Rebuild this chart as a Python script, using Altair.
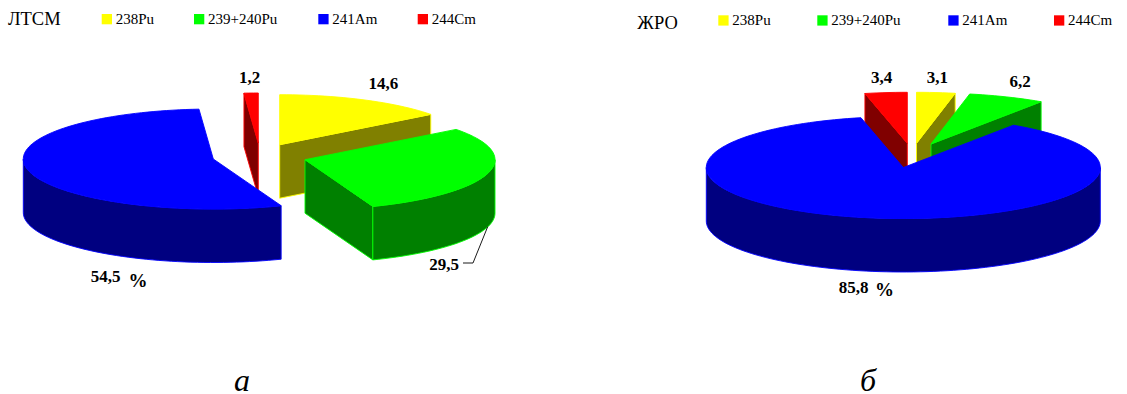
import math
import altair as alt
import pandas as pd

# Nuclide shares, per cent
NUCLIDES = ["238Pu", "239+240Pu", "241Am", "244Cm"]
LTSM_VALUES = [14.6, 29.5, 54.5, 1.2]
ZHRO_VALUES = [3.1, 6.2, 85.8, 3.4]

# Bright top colour and shaded side colour of each nuclide
TOP_COLORS = ["#ffff00", "#00ff00", "#0000ff", "#ff0000"]
SIDE_COLORS = ["#808000", "#008000", "#000080", "#800000"]

WIDTH, HEIGHT = 1127, 394
THICKNESS = 53.5
DRAW_ORDER = [0, 3, 1, 2]  # the large blue slice sits in front


def arc(cx, cy, rx, ry, t1, t2, drop=0.0):
    """Points along a tilted circle between two clockwise angles, degrees from 12 o'clock."""
    n = max(2, int(abs(t2 - t1) / 2) + 1)
    pts = []
    for i in range(n + 1):
        t = math.radians(t1 + (t2 - t1) * i / n)
        pts.append((cx + rx * math.sin(t), cy - ry * math.cos(t) + drop))
    return pts


def slice_faces(prefix, values, centers, rx, ry):
    """Faces of a raised pie as closed outlines, back to front, from the shares."""
    total = sum(values)
    bounds = [0.0]
    for v in values:
        bounds.append(bounds[-1] + v / total * 360)
    faces = []
    for idx in DRAW_ORDER:
        t1, t2 = bounds[idx], bounds[idx + 1]
        cx, cy = centers[idx]
        top, side = TOP_COLORS[idx], SIDE_COLORS[idx]

        def radial(t):
            a = math.radians(t)
            p = (cx + rx * math.sin(a), cy - ry * math.cos(a))
            return [(cx, cy), p, (p[0], p[1] + THICKNESS), (cx, cy + THICKNESS)]

        if math.sin(math.radians(t1)) < -1e-6:
            faces.append((f"{prefix}{idx}s", radial(t1), side, top))
        if math.sin(math.radians(t2)) > 1e-6:
            faces.append((f"{prefix}{idx}e", radial(t2), side, top))
        w1, w2 = max(t1, 90), min(t2, 270)
        if w2 > w1:
            upper = arc(cx, cy, rx, ry, w1, w2)
            lower = arc(cx, cy, rx, ry, w2, w1, THICKNESS)
            faces.append((f"{prefix}{idx}w", upper + lower, side, top))
        faces.append((f"{prefix}{idx}t", [(cx, cy)] + arc(cx, cy, rx, ry, t1, t2), top, top))
    return faces


# Exploded slice apexes on the page, in nuclide order
LTSM_CENTERS = [(279.7, 144.7), (305.0, 159.7), (213.3, 159.0), (258.3, 143.0)]
ZHRO_CENTERS = [(916.5, 143.3), (931.0, 144.0), (903.3, 167.5), (907.3, 143.3)]

faces = slice_faces("a", LTSM_VALUES, LTSM_CENTERS, 190, 50) + slice_faces(
    "b", ZHRO_VALUES, ZHRO_CENTERS, 197, 51
)
rows = []
for order, (name, pts, fill, stroke) in enumerate(faces):
    for i, (x, y) in enumerate(pts + pts[:1]):
        rows.append(
            {"face": f"{order:03d}{name}", "i": i, "x": x, "y": y, "fill": fill, "stroke": stroke}
        )
face_df = pd.DataFrame(rows)

X = alt.X("x:Q", scale=alt.Scale(domain=[0, WIDTH], range=[0, WIDTH], nice=False, zero=False), axis=None)
Y = alt.Y("y:Q", scale=alt.Scale(domain=[0, HEIGHT], range=[0, HEIGHT], nice=False, zero=False), axis=None)

pie = (
    alt.Chart(face_df)
    .mark_line(strokeWidth=0.9, interpolate="linear")
    .encode(
        x=X,
        y=Y,
        order=alt.Order("i:Q"),
        detail="face:N",
        fill=alt.Fill("fill:N", scale=None),
        stroke=alt.Stroke("stroke:N", scale=None),
    )
)

# Legends
swatch_rows, legend_rows = [], []
for left_edges, top in (([101.7, 194.0, 318.3, 417.7], 14.0), ([718.3, 817.3, 948.3, 1054.0], 15.3)):
    for name, color, x in zip(NUCLIDES, TOP_COLORS, left_edges):
        swatch_rows.append({"x": x, "x2": x + 10.3, "y": top, "y2": top + 10.3, "c": color})
        legend_rows.append({"x": x + 14, "y": top + 10, "t": name})

swatches = (
    alt.Chart(pd.DataFrame(swatch_rows))
    .mark_rect()
    .encode(x=X, x2="x2:Q", y=Y, y2="y2:Q", fill=alt.Fill("c:N", scale=None))
)
legend_text = (
    alt.Chart(pd.DataFrame(legend_rows))
    .mark_text(font="Liberation Serif", fontSize=15, align="left", baseline="alphabetic", color="black")
    .encode(x=X, y=Y, text="t:N")
)

titles = (
    alt.Chart(pd.DataFrame([{"x": 8, "y": 25, "t": "ЛТСМ"}, {"x": 637.3, "y": 29, "t": "ЖРО"}]))
    .mark_text(font="Liberation Serif", fontSize=18.5, align="left", baseline="alphabetic", color="black")
    .encode(x=X, y=Y, text="t:N")
)


def fmt(v):
    return str(v).replace(".", ",")


value_rows = [
    {"x": 383.3, "y": 89, "t": fmt(LTSM_VALUES[0])},
    {"x": 444.0, "y": 270, "t": fmt(LTSM_VALUES[1])},
    {"x": 105.5, "y": 282, "t": fmt(LTSM_VALUES[2])},
    {"x": 249.7, "y": 83, "t": fmt(LTSM_VALUES[3])},
    {"x": 937.3, "y": 83, "t": fmt(ZHRO_VALUES[0])},
    {"x": 1020.0, "y": 87, "t": fmt(ZHRO_VALUES[1])},
    {"x": 853.5, "y": 293, "t": fmt(ZHRO_VALUES[2])},
    {"x": 881.7, "y": 83, "t": fmt(ZHRO_VALUES[3])},
]
value_text = (
    alt.Chart(pd.DataFrame(value_rows))
    .mark_text(font="Liberation Serif", fontSize=17, fontWeight="bold", align="center", baseline="alphabetic", color="black")
    .encode(x=X, y=Y, text="t:N")
)

percent_text = (
    alt.Chart(pd.DataFrame([{"x": 138.0, "y": 287, "t": "%"}, {"x": 884.5, "y": 296, "t": "%"}]))
    .mark_text(font="Liberation Serif", fontSize=19, fontWeight="bold", align="center", baseline="alphabetic", color="black")
    .encode(x=X, y=Y, text="t:N")
)

panel_text = (
    alt.Chart(pd.DataFrame([{"x": 242, "y": 391, "t": "а"}, {"x": 868, "y": 391, "t": "б"}]))
    .mark_text(font="Liberation Serif", fontSize=32, fontStyle="italic", align="center", baseline="alphabetic", color="black")
    .encode(x=X, y=Y, text="t:N")
)

leader = (
    alt.Chart(pd.DataFrame({"x": [487.7, 473.0, 463.0], "y": [226.7, 263.0, 263.0], "i": [0, 1, 2]}))
    .mark_line(color="black", strokeWidth=0.9)
    .encode(x=X, y=Y, order=alt.Order("i:Q"))
)

chart = (
    alt.layer(pie, leader, swatches, legend_text, titles, value_text, percent_text, panel_text)
    .properties(
        width=WIDTH,
        height=HEIGHT,
        padding=0,
        autosize=alt.AutoSizeParams(type="none"),
        background="white",
    )
    .configure_view(stroke=None)
)

chart.save("out.html", embed_options={"renderer": "svg", "actions": False})
